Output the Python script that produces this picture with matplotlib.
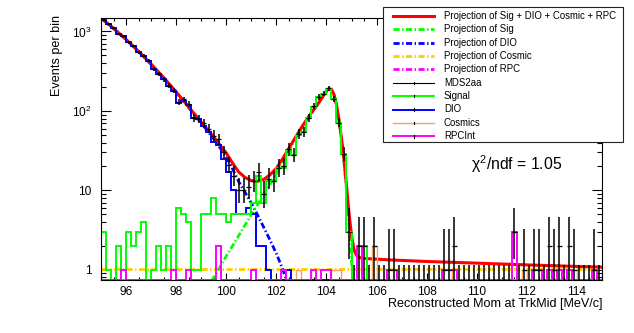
import math
import numpy as np
import matplotlib
matplotlib.use("Agg")
import matplotlib.pyplot as plt
from matplotlib.lines import Line2D
from matplotlib.patches import Rectangle
from matplotlib.ticker import FixedLocator, FixedFormatter, MultipleLocator, LogLocator, NullFormatter

plt.rcParams['font.family'] = ['Liberation Sans', 'DejaVu Sans']
plt.rcParams['mathtext.fontset'] = 'custom'
plt.rcParams['mathtext.rm'] = 'Liberation Sans'
plt.rcParams['mathtext.it'] = 'Liberation Sans:italic'
plt.rcParams['mathtext.bf'] = 'Liberation Sans:bold'

# ---------------- binning ----------------
x_min, x_max, n_bins = 95.0, 115.0, 100
edges = np.linspace(x_min, x_max, n_bins + 1)
centers = 0.5 * (edges[:-1] + edges[1:])
y_min, y_max = 0.753, 1479.0

# ---------------- MC component histograms (entries per 0.2 MeV bin) ----------------
signal_hist = [
    3, 1, 0, 2, 0, 3, 2, 3, 4, 0,
    1, 2, 1, 2, 1, 6, 5, 4, 1, 1,
    5, 5, 8, 5, 5, 4, 5, 5, 5, 5,
    7, 15, 7, 13, 13, 19, 19, 32, 28, 50,
    54, 81, 113, 150, 164, 191, 140, 70, 29, 3,
    0, 0, 2, 0, 0, 0, 0, 0, 0, 0,
    0, 0, 0, 0, 0, 0, 0, 0, 0, 0,
    0, 0, 0, 0, 0, 0, 0, 0, 0, 0,
    0, 0, 0, 0, 0, 0, 0, 0, 0, 0,
    0, 0, 0, 0, 0, 0, 0, 0, 0, 0,
]
dio_hist = [
    1409, 1229, 1108, 938, 871, 728, 658, 545, 494, 430,
    337, 290, 249, 206, 178, 125, 135, 117, 81, 79,
    65, 55, 41, 37, 25, 17, 10, 5, 5, 6,
    5, 2, 2, 1, 0, 0, 0, 1, 0, 0,
    0, 0, 0, 0, 0, 0, 0, 0, 0, 0,
    0, 0, 0, 0, 0, 0, 0, 0, 0, 0,
    0, 0, 0, 0, 0, 0, 0, 0, 0, 0,
    0, 0, 0, 0, 0, 0, 0, 0, 0, 0,
    0, 0, 0, 0, 0, 0, 0, 0, 0, 1,
    0, 1, 0, 1, 0, 0, 0, 0, 0, 0,
]
cosmic_hist = [
    0, 0, 0, 0, 0, 0, 0, 0, 0, 0,
    0, 0, 0, 0, 0, 0, 0, 0, 0, 0,
    0, 0, 0, 0, 0, 0, 0, 0, 0, 0,
    0, 0, 0, 0, 0, 0, 0, 0, 0, 1,
    0, 0, 1, 0, 0, 0, 1, 1, 0, 0,
    0, 0, 0, 0, 2, 0, 0, 0, 0, 0,
    0, 0, 0, 0, 0, 0, 0, 0, 0, 0,
    1, 0, 0, 0, 0, 0, 0, 0, 0, 0,
    0, 0, 0, 0, 1, 0, 0, 0, 0, 0,
    1, 0, 0, 0, 1, 0, 0, 0, 0, 0,
]
rpc_hist = [
    0, 0, 0, 0, 1, 0, 0, 0, 0, 0,
    0, 0, 0, 0, 1, 0, 0, 1, 0, 0,
    0, 0, 0, 2, 0, 0, 0, 0, 0, 0,
    1, 0, 0, 0, 0, 0, 1, 0, 0, 0,
    0, 0, 1, 0, 1, 1, 0, 0, 0, 0,
    0, 2, 0, 0, 0, 0, 0, 1, 1, 0,
    0, 0, 0, 0, 0, 0, 0, 0, 1, 1,
    1, 0, 0, 0, 0, 0, 0, 0, 0, 0,
    0, 0, 3, 0, 0, 0, 1, 1, 0, 1,
    0, 1, 0, 1, 0, 0, 0, 0, 1, 0,
]

# mock dataset is the sum of the component samples
mds2aa = (np.array(signal_hist) + np.array(dio_hist)
          + np.array(cosmic_hist) + np.array(rpc_hist))

# ---------------- fitted PDF projections (events per bin) ----------------
fit_x = [95.0, 95.5, 96.0, 96.5, 97.0, 97.5, 98.0, 98.5, 99.0, 99.5, 100.0,
         100.25, 100.5, 100.75, 101.0, 101.25, 101.5, 101.75, 102.0, 102.25,
         102.5, 102.75, 103.0, 103.25, 103.5, 103.75,
         103.9, 104.0, 104.1, 104.2, 104.3, 104.4, 104.5, 104.6, 104.7, 104.8,
         104.9, 105.0, 105.1, 105.2, 105.3,
         105.5, 106.0, 106.5, 107.0, 108.0, 109.0, 110.0, 111.0, 112.0, 113.0,
         114.0, 115.0]
fit_dio = [1477, 1094, 792, 560, 387, 261, 172, 110, 70.4, 44.5, 26.5,
           18.6, 12.8, 9.4, 6.9, 4.9, 3.4, 2.35, 1.6, 1.02,
           0.6, 0.3, 0.12, 0.04, 0.01, 0.002,
           0, 0, 0, 0, 0, 0, 0, 0, 0, 0,
           0, 0, 0, 0, 0,
           0, 0, 0, 0, 0, 0, 0, 0, 0, 0,
           0, 0]
fit_sig = [0.005, 0.0065, 0.012, 0.022, 0.04, 0.075, 0.14, 0.25, 0.45, 0.8, 1.48,
           2.0, 2.7, 3.65, 4.9, 6.6, 8.9, 11.9, 15.9, 22.5,
           31.8, 44, 60, 80, 103, 133,
           160, 176, 189, 185, 160, 118, 76, 44, 23, 10,
           3.8, 1.3, 0.4, 0.12, 0.04,
           0.005, 0.0005, 0, 0, 0, 0, 0, 0, 0, 0,
           0, 0]
fit_cosmic_level = 1.02
fit_rpc = [0.55, 0.54, 0.53, 0.52, 0.51, 0.50, 0.49, 0.48, 0.47, 0.46, 0.45,
           0.45, 0.44, 0.44, 0.44, 0.43, 0.43, 0.43, 0.42, 0.42,
           0.42, 0.41, 0.41, 0.41, 0.40, 0.40,
           0.40, 0.40, 0.39, 0.39, 0.39, 0.39, 0.39, 0.38, 0.38, 0.38,
           0.38, 0.38, 0.37, 0.37, 0.37,
           0.36, 0.34, 0.31, 0.29, 0.25, 0.22, 0.19, 0.16, 0.13, 0.105,
           0.08, 0.06]

fit_x = np.array(fit_x)
fit_dio = np.array(fit_dio, dtype=float)
fit_sig = np.array(fit_sig, dtype=float)
fit_cos = np.full_like(fit_x, fit_cosmic_level)
fit_rpc = np.array(fit_rpc, dtype=float)
fit_total = fit_dio + fit_sig + fit_cos + fit_rpc

chi2_ndf = 1.05


def poisson_band(n, cl=0.682689):
    """Central Poisson interval (RooFit convention: one-sided 1.148 for n=0)."""
    if n == 0:
        return 0.0, 1.1479
    if n > 100:
        s = math.sqrt(n)
        return n - s, n + s
    alpha = 0.5 * (1.0 - cl)

    def cdf(k, mu):
        return sum(math.exp(-mu + i * math.log(mu) - math.lgamma(i + 1)) for i in range(k + 1))

    lo_a, lo_b = 1e-9, float(n)
    for _ in range(80):
        m = 0.5 * (lo_a + lo_b)
        if 1.0 - cdf(n - 1, m) < alpha:
            lo_a = m
        else:
            lo_b = m
    hi_a, hi_b = float(n), n + 10 * math.sqrt(n) + 10
    for _ in range(80):
        m = 0.5 * (hi_a + hi_b)
        if cdf(n, m) > alpha:
            hi_a = m
        else:
            hi_b = m
    return 0.5 * (lo_a + lo_b), 0.5 * (hi_a + hi_b)


# ---------------- figure ----------------
W, H = 634, 333
fig = plt.figure(figsize=(W / 100, H / 100), dpi=100)
ax_l, ax_r, ax_t, ax_b = 101, 602, 18, 279.5
ax = fig.add_axes([ax_l / W, 1 - ax_b / H, (ax_r - ax_l) / W, (ax_b - ax_t) / H])
ax.set_yscale('log')
ax.set_xlim(x_min, x_max)
ax.set_ylim(y_min, y_max)

RED = '#ff0000'
GREEN = '#00ff00'
BLUE = '#0000ff'
GOLD = '#ffcc00'
ORANGE = '#ffa060'
MAGENTA = '#ff00ff'
dashdot = (0, (2.2, 0.9, 0.5, 0.9))


def curve(y, color, lw, ls, z):
    y = np.where(y > 0, y, np.nan)
    ax.plot(fit_x, y, color=color, lw=lw, ls=ls, zorder=z, solid_capstyle='butt')


curve(fit_cos, GOLD, 2.0, dashdot, 2.1)
curve(fit_rpc, MAGENTA, 2.0, dashdot, 2.1)
curve(fit_dio, BLUE, 2.0, dashdot, 2.2)
curve(fit_sig, GREEN, 2.0, dashdot, 2.2)
curve(fit_total, RED, 2.2, '-', 2.3)


def hist(vals, color, lw, z):
    v = np.maximum(np.asarray(vals, dtype=float), y_min)
    ax.stairs(v, edges, baseline=None, color=color, lw=lw, zorder=z)


hist(cosmic_hist, ORANGE, 1.0, 3.0)
hist(dio_hist, BLUE, 1.4, 3.1)
hist(signal_hist, GREEN, 1.4, 3.2)
hist(rpc_hist, MAGENTA, 1.4, 3.3)

# data points with Poisson error bars
half_w = 0.5 * (edges[1] - edges[0])
for c, n in zip(centers, mds2aa):
    lo, hi = poisson_band(int(n))
    ax.plot([c, c], [max(lo, 1e-3), hi], color='black', lw=1.1, zorder=4,
            solid_capstyle='butt')
    if n > 0:
        ax.plot([c - half_w, c + half_w], [n, n], color='black', lw=0.9, zorder=4,
                solid_capstyle='butt')

# axes styling
for s in ax.spines.values():
    s.set_linewidth(0.8)
    s.set_zorder(5)
ax.xaxis.set_major_locator(MultipleLocator(2))
ax.xaxis.set_minor_locator(MultipleLocator(0.5))
ax.yaxis.set_major_locator(FixedLocator([1, 10, 100, 1000]))
ax.yaxis.set_major_formatter(FixedFormatter(['1', '10', r'$10^{2}$', r'$10^{3}$']))
ax.yaxis.set_minor_locator(LogLocator(base=10, subs=np.arange(2, 10), numticks=20))
ax.yaxis.set_minor_formatter(NullFormatter())
ax.tick_params(axis='x', which='major', direction='in', length=4.8, width=0.8,
               top=True, labelsize=8.6, pad=5)
ax.tick_params(axis='x', which='minor', direction='in', length=2.4, width=0.8, top=True)
ax.tick_params(axis='y', which='major', direction='in', length=7.2, width=0.8,
               right=True, labelsize=8.6, pad=7)
ax.tick_params(axis='y', which='minor', direction='in', length=3.6, width=0.8, right=True)

# overlay in pixel coordinates for titles, legend and fit quality
ov = fig.add_axes([0, 0, 1, 1], zorder=10)
ov.set_xlim(0, W)
ov.set_ylim(H, 0)
ov.axis('off')
ov.patch.set_alpha(0)

ov.text(602, 306.5, 'Reconstructed Mom at TrkMid [MeV/c]', ha='right', va='baseline',
        fontsize=9.1)
ov.text(57, 15, 'Events per bin', rotation=90, ha='center', va='top', fontsize=9.1)
ov.text(517, 164, r'$\mathrm{\chi}^{2}$/ndf = %.2f' % chi2_ndf, ha='center', va='center',
        fontsize=11.3)

ov.add_patch(Rectangle((383, 7), 240, 135, facecolor='white', edgecolor='#222222',
                       lw=0.8, zorder=1))
legend_rows = [
    ('Projection of Sig + DIO + Cosmic + RPC', RED, 2.2, '-', False),
    ('Projection of Sig', GREEN, 2.0, dashdot, False),
    ('Projection of DIO', BLUE, 2.0, dashdot, False),
    ('Projection of Cosmic', GOLD, 2.0, dashdot, False),
    ('Projection of RPC', MAGENTA, 2.0, dashdot, False),
    ('MDS2aa', 'black', 0.8, '-', True),
    ('Signal', GREEN, 1.4, '-', True),
    ('DIO', BLUE, 1.4, '-', True),
    ('Cosmics', ORANGE, 1.0, '-', True),
    ('RPCInt', MAGENTA, 1.4, '-', True),
]
for i, (label, color, lw, ls, tick) in enumerate(legend_rows):
    y = 15.7 + 13.4 * i
    ov.add_line(Line2D([393, 434], [y, y], color=color, lw=lw, ls=ls, zorder=2))
    if tick:
        ov.add_line(Line2D([413.5, 413.5], [y - 1.2, y + 1.2], color='black', lw=0.8, zorder=3))
    ov.text(444, y, label, ha='left', va='center', fontsize=6.9, zorder=3)

fig.savefig('out.png', dpi=100)
